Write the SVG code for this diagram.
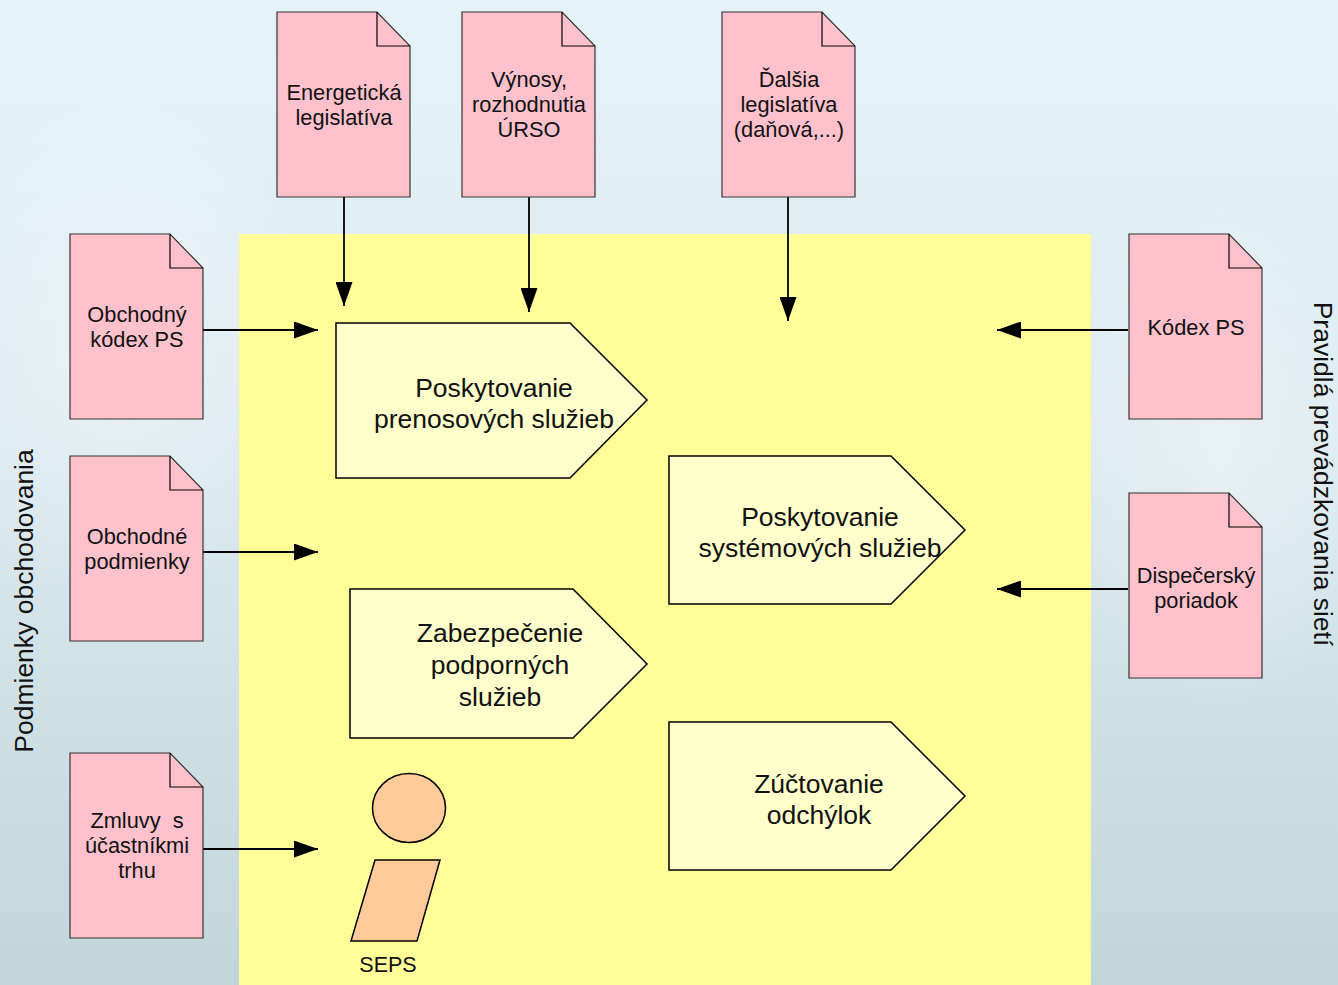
<svg xmlns="http://www.w3.org/2000/svg" width="1338" height="985" viewBox="0 0 1338 985">
<defs>
<linearGradient id="bg" x1="0" y1="0" x2="0" y2="1">
<stop offset="0" stop-color="#E6F4FA"/>
<stop offset="0.45" stop-color="#DCEAF0"/>
<stop offset="1" stop-color="#C2D6DA"/>
</linearGradient>
<radialGradient id="haze" cx="0.5" cy="0.5" r="0.5">
<stop offset="0" stop-color="#FFFFFF" stop-opacity="0.35"/>
<stop offset="1" stop-color="#FFFFFF" stop-opacity="0"/>
</radialGradient>
<marker id="ah" markerWidth="24" markerHeight="17" refX="24" refY="8.5" orient="auto" markerUnits="userSpaceOnUse">
<path d="M0,0 L24,8.5 L0,17 Z" fill="#000"/>
</marker>
<path id="docshape" d="M0,0 H100 L133,34 V185 H0 Z"/>
</defs>
<style>
.doc{fill:#FFC2CC;stroke:#333;stroke-width:1.2}
.fold{fill:none;stroke:#000;stroke-width:1.2}
.dt{font-family:"Liberation Sans",Arial,sans-serif;font-size:21.8px;fill:#111;text-anchor:middle}
.proc{fill:#FFFFCC;stroke:#000;stroke-width:1.5}
.pt{font-family:"Liberation Sans",Arial,sans-serif;font-size:26.5px;fill:#111;text-anchor:middle}
.side{font-family:"Liberation Sans",Arial,sans-serif;font-size:26.5px;fill:#111;text-anchor:middle}
.con{stroke:#000;stroke-width:1.8;fill:none;marker-end:url(#ah)}
</style>
<rect x="0" y="0" width="1338" height="985" fill="url(#bg)"/>
<ellipse cx="120" cy="350" rx="200" ry="260" fill="url(#haze)"/>
<ellipse cx="1220" cy="450" rx="180" ry="260" fill="url(#haze)"/>
<rect x="239" y="234" width="852" height="751" fill="#FFFE99"/>

<text class="side" transform="translate(33,601) rotate(-90)">Podmienky obchodovania</text>
<text class="side" transform="translate(1314,474) rotate(90)">Pravidlá prevádzkovania sietí</text>

<g id="connectors">
<line class="con" x1="344" y1="197" x2="344" y2="306"/>
<line class="con" x1="529" y1="197" x2="529" y2="312"/>
<line class="con" x1="788" y1="197" x2="788" y2="321"/>
<line class="con" x1="203" y1="330" x2="318" y2="330"/>
<line class="con" x1="203" y1="552" x2="318" y2="552"/>
<line class="con" x1="203" y1="849" x2="318" y2="849"/>
<line class="con" x1="1128" y1="330" x2="997" y2="330"/>
<line class="con" x1="1128" y1="589" x2="997" y2="589"/>
</g>

<g id="doc-energeticka" transform="translate(277,12)">
<use href="#docshape" class="doc"/>
<path class="fold" d="M100,0 V34 H133"/>
<text class="dt" x="67" y="88">Energetická</text>
<text class="dt" x="67" y="113">legislatíva</text>
</g>
<g id="doc-vynosy" transform="translate(462,12)">
<use href="#docshape" class="doc"/>
<path class="fold" d="M100,0 V34 H133"/>
<text class="dt" x="67" y="75">Výnosy,</text>
<text class="dt" x="67" y="100">rozhodnutia</text>
<text class="dt" x="67" y="125">ÚRSO</text>
</g>
<g id="doc-dalsia" transform="translate(722,12)">
<use href="#docshape" class="doc"/>
<path class="fold" d="M100,0 V34 H133"/>
<text class="dt" x="67" y="75">Ďalšia</text>
<text class="dt" x="67" y="100">legislatíva</text>
<text class="dt" x="67" y="125">(daňová,...)</text>
</g>
<g id="doc-obchodny-kodex" transform="translate(70,234)">
<use href="#docshape" class="doc"/>
<path class="fold" d="M100,0 V34 H133"/>
<text class="dt" x="67" y="88">Obchodný</text>
<text class="dt" x="67" y="113">kódex PS</text>
</g>
<g id="doc-obchodne-podmienky" transform="translate(70,456)">
<use href="#docshape" class="doc"/>
<path class="fold" d="M100,0 V34 H133"/>
<text class="dt" x="67" y="88">Obchodné</text>
<text class="dt" x="67" y="113">podmienky</text>
</g>
<g id="doc-zmluvy" transform="translate(70,753)">
<use href="#docshape" class="doc"/>
<path class="fold" d="M100,0 V34 H133"/>
<text class="dt" x="67" y="75" xml:space="preserve">Zmluvy  s</text>
<text class="dt" x="67" y="100">účastníkmi</text>
<text class="dt" x="67" y="125">trhu</text>
</g>
<g id="doc-kodex-ps" transform="translate(1129,234)">
<use href="#docshape" class="doc"/>
<path class="fold" d="M100,0 V34 H133"/>
<text class="dt" x="67" y="101">Kódex PS</text>
</g>
<g id="doc-dispecersky" transform="translate(1129,493)">
<use href="#docshape" class="doc"/>
<path class="fold" d="M100,0 V34 H133"/>
<text class="dt" x="67" y="90">Dispečerský</text>
<text class="dt" x="67" y="115">poriadok</text>
</g>

<g id="proc-prenos">
<path class="proc" d="M336,323 H570 L647,400 L570,478 H336 Z"/>
<text class="pt" x="494" y="397">Poskytovanie</text>
<text class="pt" x="494" y="428">prenosových služieb</text>
</g>
<g id="proc-system">
<path class="proc" d="M669,456 H891 L965,530 L891,604 H669 Z"/>
<text class="pt" x="820" y="526">Poskytovanie</text>
<text class="pt" x="820" y="557">systémových služieb</text>
</g>
<g id="proc-podporne">
<path class="proc" d="M350,589 H573 L647,664 L573,738 H350 Z"/>
<text class="pt" x="500" y="642">Zabezpečenie</text>
<text class="pt" x="500" y="674">podporných</text>
<text class="pt" x="500" y="706">služieb</text>
</g>
<g id="proc-zuctovanie">
<path class="proc" d="M669,722 H891 L965,796 L891,870 H669 Z"/>
<text class="pt" x="819" y="793">Zúčtovanie</text>
<text class="pt" x="819" y="824">odchýlok</text>
</g>

<g id="seps">
<ellipse cx="409" cy="808" rx="36.5" ry="34.5" fill="#FFCC99" stroke="#000" stroke-width="1.5"/>
<path d="M375,860 H440 L417,941 H351 Z" fill="#FFCC99" stroke="#000" stroke-width="1.5"/>
<text x="388" y="972" font-family="Liberation Sans, Arial, sans-serif" font-size="21.5px" fill="#111" text-anchor="middle">SEPS</text>
</g>
</svg>
